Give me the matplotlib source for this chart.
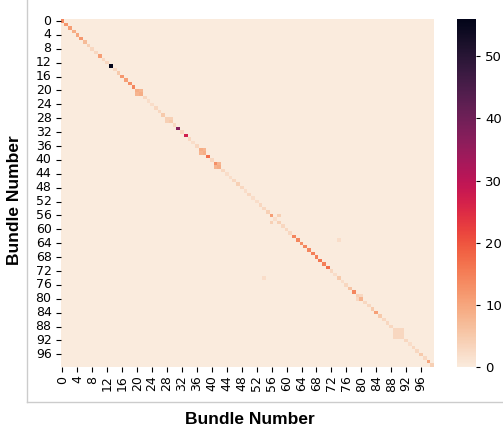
import numpy as np
import matplotlib
matplotlib.use("Agg")
import matplotlib.pyplot as plt
import seaborn as sns
from matplotlib.lines import Line2D

# diagonal counts per bundle
diag_vals = [14, 12, 11, 9, 10, 12, 7, 4, 3, 3,
             11, 3, 3, 56, 3, 5, 12, 11, 13, 14,
             9, 9, 3, 2, 2, 3, 3, 5, 4, 5,
             3, 37, 3, 27, 3, 2, 3, 9, 9, 17,
             3, 13, 9, 3, 2, 2, 3, 4, 3, 2,
             3, 2, 2, 3, 3, 4, 11, 2, 4, 3,
             3, 3, 14, 14, 13, 14, 14, 15, 15, 16,
             15, 17, 3, 2, 5, 2, 3, 6, 14, 4,
             8, 3, 3, 5, 11, 5, 3, 3, 3, 3,
             3, 3, 3, 2, 3, 3, 5, 3, 10, 4]

# off-diagonal cells: (row, col, value)
off_rows = [20, 21, 28, 29, 37, 38, 41, 42, 56, 58, 79, 80, 89, 90, 89, 91, 90, 91, 63, 74]
off_cols = [21, 20, 29, 28, 38, 37, 42, 41, 58, 56, 80, 79, 90, 89, 91, 89, 91, 90, 74, 54]
off_vals = [8, 8, 4, 4, 8, 8, 8, 8, 4, 4, 3, 3, 3, 3, 3, 3, 3, 3, 2, 2]

n = len(diag_vals)
mat = np.zeros((n, n))
mat[np.arange(n), np.arange(n)] = diag_vals
mat[off_rows, off_cols] = off_vals

fig = plt.figure(figsize=(5.03, 4.32), dpi=100)
ax = fig.add_axes([0.1205, 0.1516, 0.7425, 0.8037])
cax = fig.add_axes([0.9085, 0.1505, 0.038, 0.8055])

sns.heatmap(mat, ax=ax, cbar_ax=cax, cmap="rocket_r", vmin=0, vmax=56)

ticks = np.arange(0, n, 4)
ax.set_xticks(ticks + 0.5)
ax.set_xticklabels([str(t) for t in ticks], rotation=90, fontsize=9)
ax.set_yticks(ticks + 0.5)
ax.set_yticklabels([str(t) for t in ticks], rotation=0, fontsize=9)
ax.tick_params(length=3.5, pad=3)

cax.set_yticks([0, 10, 20, 30, 40, 50])
cax.tick_params(labelsize=9.5, length=3)

# frame lines around the picture
fig.add_artist(Line2D([27 / 503, 27 / 503], [1 - 402 / 432, 1.0], color="#cccccc", lw=1))
fig.add_artist(Line2D([27 / 503, 1.0], [1 - 402 / 432, 1 - 402 / 432], color="#cccccc", lw=1))

fig.text(250 / 503, 1 - 420 / 432, "Bundle Number", ha="center", va="center",
         fontsize=12.5, fontweight="bold", family="Liberation Sans")
fig.text(15 / 503, 1 - 200 / 432, "Bundle Number", ha="center", va="center",
         rotation=90, fontsize=12.5, fontweight="bold", family="Liberation Sans")

fig.savefig("out.png", dpi=100)
